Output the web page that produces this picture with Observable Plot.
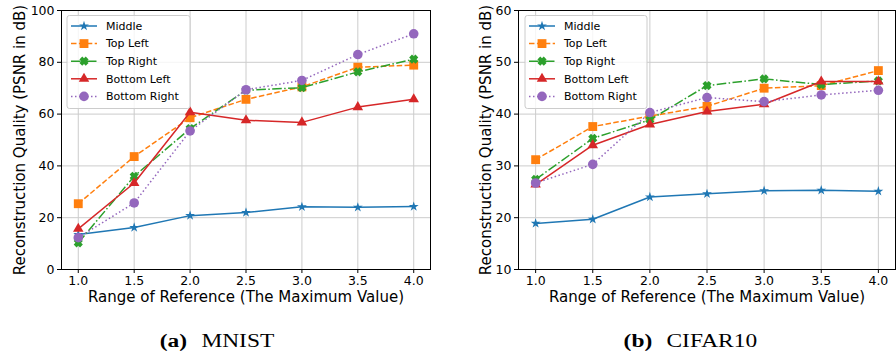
<!DOCTYPE html>
<html>
<head>
<meta charset="utf-8">
<script src="https://cdn.jsdelivr.net/npm/d3@7"></script>
<script src="https://cdn.jsdelivr.net/npm/@observablehq/plot@0.6"></script>
<style>
  html, body { margin: 0; padding: 0; background: #fff; }
  #page { position: relative; width: 896px; height: 358px; overflow: hidden; font-family: "DejaVu Sans", sans-serif; }
  .panel { position: absolute; top: 0; }
  .overlay { position: absolute; top: 0; left: 0; pointer-events: none; }
  .cap { position: absolute; top: 332px; font-family: "Liberation Serif", serif; font-size: 18px; line-height: 18px; white-space: nowrap; color: #000; }
  .cap .in { display: inline-block; transform: scaleX(1.3); transform-origin: center; }
  .cap b { font-weight: bold; }
  .cap .nm { margin-left: 11px; }
</style>
</head>
<body>
<div id="page"></div>
<script>
// ---------------- data ----------------
const xValues = [1.0, 1.5, 2.0, 2.5, 3.0, 3.5, 4.0];
const seriesNames = ["Middle", "Top Left", "Top Right", "Bottom Left", "Bottom Right"];

const mnistMiddle      = [13.5, 16.2, 20.8, 22.0, 24.2, 24.0, 24.3];
const mnistTopLeft     = [25.4, 43.6, 58.6, 65.7, 70.5, 78.1, 78.9];
const mnistTopRight    = [10.3, 36.0, 54.4, 69.2, 70.2, 76.3, 81.2];
const mnistBottomLeft  = [15.7, 33.4, 60.7, 57.6, 56.8, 62.7, 65.7];
const mnistBottomRight = [12.3, 25.7, 53.5, 69.4, 73.0, 83.0, 91.0];

const cifarMiddle      = [18.9, 19.7, 24.0, 24.6, 25.2, 25.3, 25.1];
const cifarTopLeft     = [31.2, 37.6, 39.6, 41.5, 45.0, 45.5, 48.4];
const cifarTopRight    = [27.4, 35.3, 38.9, 45.5, 46.8, 45.7, 46.4];
const cifarBottomLeft  = [26.4, 34.0, 38.0, 40.5, 41.9, 46.3, 46.3];
const cifarBottomRight = [26.7, 30.3, 40.3, 43.2, 42.4, 43.7, 44.6];

const mnistYTicks = [0, 20, 40, 60, 80, 100];
const cifarYTicks = [10, 20, 30, 40, 50, 60];

const xLabel = "Range of Reference (The Maximum Value)";
const yLabel = "Reconstruction Quality (PSNR in dB)";
const captions = [["(a)", "MNIST"], ["(b)", "CIFAR10"]];

// ---------------- styles ----------------
// filled "X" marker like matplotlib's 'X'
const symbolFilledX = {
  draw(context, size) {
    const s = Math.sqrt(size) * 0.6, w = s * 0.45;
    const pts = [[-w,-s],[w,-s],[w,-w],[s,-w],[s,w],[w,w],[w,s],[-w,s],[-w,w],[-s,w],[-s,-w],[-w,-w]];
    const c = Math.SQRT1_2;
    pts.forEach(([x, y], i) => {
      const X = (x - y) * c, Y = (x + y) * c;
      if (i === 0) context.moveTo(X, Y); else context.lineTo(X, Y);
    });
    context.closePath();
  }
};

const seriesStyle = [
  {color: "#1f77b4", dash: null,              symbol: d3.symbolStar,     r: 3.1},
  {color: "#ff7f0e", dash: "5.5,2.4",         symbol: d3.symbolSquare,   r: 5.0},
  {color: "#2ca02c", dash: "9.6,2.4,1.5,2.4", symbol: symbolFilledX,     r: 4.2},
  {color: "#d62728", dash: null,              symbol: d3.symbolTriangle, r: 3.9},
  {color: "#9467bd", dash: "1.5,2.5",         symbol: d3.symbolCircle,   r: 4.8}
];

function rowsFor(values) {
  return xValues.map((x, i) => ({x, y: values[i]}));
}

function makeChart({series, yDomain, yTicks, marginLeft, marginRight, yLabelDx}) {
  const marks = [
    Plot.gridX(xValues, {stroke: "#cccccc", strokeOpacity: 1, strokeWidth: 1}),
    Plot.gridY(yTicks, {stroke: "#cccccc", strokeOpacity: 1, strokeWidth: 1})
  ];
  series.forEach((vals, k) => {
    const st = seriesStyle[k];
    const rows = rowsFor(vals);
    marks.push(Plot.line(rows, {x: "x", y: "y", stroke: st.color, strokeWidth: 1.5,
      strokeDasharray: st.dash || undefined, strokeLinecap: "butt", strokeLinejoin: "round"}));
    marks.push(Plot.dot(rows, {x: "x", y: "y", symbol: st.symbol, r: st.r, fill: st.color, stroke: "none"}));
  });
  marks.push(
    Plot.frame({stroke: "#000", strokeWidth: 1}),
    Plot.axisX(xValues, {tickFormat: d3.format(".1f"), tickSize: 4, tickPadding: 3, label: null, fontSize: 12.5}),
    Plot.axisY(yTicks, {tickSize: 4, tickPadding: 3, label: null, fontSize: 12.5}),
    Plot.text([xLabel], {text: d => d, frameAnchor: "bottom", textAnchor: "middle", lineAnchor: "middle", dy: 28, fontSize: 15, fill: "#000"}),
    Plot.text([yLabel], {text: d => d, frameAnchor: "left", textAnchor: "middle", lineAnchor: "middle", dx: yLabelDx, rotate: -90, fontSize: 15, fill: "#000"})
  );
  return Plot.plot({
    width: 448, height: 310,
    marginLeft, marginRight, marginTop: 10, marginBottom: 41,
    x: {domain: [0.85, 4.15]},
    y: {domain: yDomain},
    style: {fontFamily: "DejaVu Sans, sans-serif", fontSize: "12.5px", color: "#000", background: "transparent", overflow: "visible"},
    marks
  });
}

function addLegend(parent, box) {
  const svg = d3.select(parent).append("svg")
    .attr("class", "overlay").attr("width", 448).attr("height", 310);
  svg.append("rect")
    .attr("x", box.x + 0.5).attr("y", box.y + 0.5)
    .attr("width", box.w).attr("height", box.h)
    .attr("rx", 2.5).attr("fill", "#fff").attr("fill-opacity", 0.8)
    .attr("stroke", "#cccccc").attr("stroke-width", 1);
  seriesNames.forEach((name, k) => {
    const st = seriesStyle[k];
    const y = box.y + 11 + k * 17.6;
    const x0 = box.x + 4.5, x1 = x0 + 26;
    svg.append("line").attr("x1", x0).attr("x2", x1).attr("y1", y).attr("y2", y)
      .attr("stroke", st.color).attr("stroke-width", 1.5)
      .attr("stroke-dasharray", st.dash || null);
    svg.append("path")
      .attr("transform", `translate(${(x0 + x1) / 2},${y})`)
      .attr("d", d3.symbol(st.symbol, st.r * st.r * Math.PI)())
      .attr("fill", st.color);
    svg.append("text").attr("x", box.x + 39.5).attr("y", y).attr("dy", "0.35em")
      .attr("font-family", "DejaVu Sans, sans-serif").attr("font-size", 11).attr("fill", "#000")
      .text(name);
  });
}

const page = document.getElementById("page");

const left = document.createElement("div");
left.className = "panel"; left.style.left = "0px";
left.appendChild(makeChart({
  series: [mnistMiddle, mnistTopLeft, mnistTopRight, mnistBottomLeft, mnistBottomRight],
  yDomain: [0, 100], yTicks: mnistYTicks, marginLeft: 61, marginRight: 18, yLabelDx: -41
}));
page.appendChild(left);
addLegend(left, {x: 66.5, y: 15, w: 123, h: 93});

const right = document.createElement("div");
right.className = "panel"; right.style.left = "448px";
right.appendChild(makeChart({
  series: [cifarMiddle, cifarTopLeft, cifarTopRight, cifarBottomLeft, cifarBottomRight],
  yDomain: [10, 60], yTicks: cifarYTicks, marginLeft: 70, marginRight: 1, yLabelDx: -32.5
}));
page.appendChild(right);
addLegend(right, {x: 76.5, y: 15, w: 122, h: 93});

// captions
[[216.7, captions[0]], [690, captions[1]]].forEach(([cx, [a, b]]) => {
  const d = document.createElement("div");
  d.className = "cap";
  d.style.left = (cx - 150) + "px";
  d.style.width = "300px";
  d.style.textAlign = "center";
  d.innerHTML = `<span class="in"><b>${a}</b><span class="nm">${b}</span></span>`;
  page.appendChild(d);
});
</script>
</body>
</html>
